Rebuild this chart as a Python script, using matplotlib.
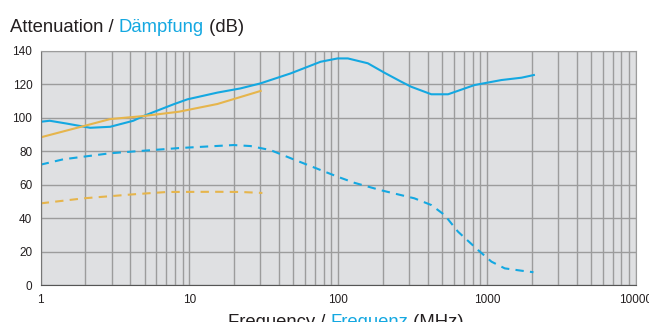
import numpy as np
import matplotlib
matplotlib.use("Agg")
import matplotlib.pyplot as plt

plt.rcParams['font.family'] = ['Liberation Sans', 'DejaVu Sans']

# data (MHz, dB)
f_blue = [1, 1.15, 1.5, 2.15, 2.93, 4.19, 4.9, 7.8, 9.7, 15.4, 22, 30, 48,
          76, 99, 116, 158, 204, 265, 309, 422, 547, 823, 1250, 1706, 2065]
att_blue = [97.6, 98.2, 96.5, 94, 94.6, 98.2, 101, 108, 111, 115, 117.5, 120.5, 126.5,
            133.4, 135.4, 135.4, 132.5, 126.9, 121.5, 118.5, 114, 114, 119.5, 122.5, 123.9, 125.5]

f_orange = [1, 1.94, 2.93, 4.9, 8.5, 15.4, 30.1]
att_orange = [88.3, 95, 99.2, 101, 103.6, 108.2, 116]

f_blue_d = [1, 1.42, 2.93, 4.9, 8.5, 19.8, 25.7, 35, 48, 76, 99, 128, 194, 325,
            422, 519, 638, 871, 1071, 1316, 1706, 2050]
att_blue_d = [72, 75.2, 78.8, 80.3, 81.9, 83.7, 83.1, 80.7, 75.8, 68.8, 64.8, 61.2,
              56.7, 51.9, 47.9, 41.9, 32, 21, 14.1, 10.1, 8.7, 7.8]

f_orange_d = [1, 1.94, 4.21, 7.08, 15.4, 22, 30.9]
att_orange_d = [48.9, 51.9, 54.3, 55.7, 55.8, 55.7, 55.1]

blue = '#14a8e1'
orange = '#e6b54c'
txt = '#231f20'

fig = plt.figure(figsize=(6.49, 3.22), dpi=100)
ax = fig.add_axes([0.0627, 0.114, 0.917, 0.7285])
ax.set_facecolor('#dfe0e2')
ax.set_xscale('log')
ax.set_xlim(1, 10000)
ax.set_ylim(0, 140)
ax.set_yticks(np.arange(0, 141, 20))
ax.set_xticks([1, 10, 100, 1000, 10000])
ax.set_xticklabels(['1', '10', '100', '1000', '10000'])
ax.grid(True, which='both', color='#9c9c9c', lw=1)
ax.set_axisbelow(True)
ax.tick_params(which='both', length=0, labelsize=8.5, colors=txt, pad=6)
for s in ax.spines.values():
    s.set_color('#9c9c9c')
ax.spines['bottom'].set_color('#555555')
ax.spines['left'].set_color('#777777')

ax.plot(f_blue, att_blue, color=blue, lw=1.5)
ax.plot(f_orange, att_orange, color=orange, lw=1.5)
ax.plot(f_blue_d, att_blue_d, color=blue, lw=1.5, dashes=(4, 3))
ax.plot(f_orange_d, att_orange_d, color=orange, lw=1.5, dashes=(4, 3))

# title in two colours
t1 = fig.text(0.0155, 0.9, 'Attenuation / ', fontsize=13.3, color=txt, va='baseline')
t2 = ax.annotate('Dämpfung', xy=(1, 0), xycoords=t1, va='bottom', fontsize=13.3, color=blue,
                 annotation_clip=False)
ax.annotate(' (dB)', xy=(1, 0), xycoords=t2, va='bottom', fontsize=13.3, color=txt,
            annotation_clip=False)

x1 = fig.text(0.351, 0.025, 'Frequency / ', fontsize=13.3, color=txt, va='top')
x2 = ax.annotate('Frequenz', xy=(1, 1), xycoords=x1, va='top', fontsize=13.3, color=blue,
                 annotation_clip=False)
ax.annotate(' (MHz)', xy=(1, 1), xycoords=x2, va='top', fontsize=13.3, color=txt,
            annotation_clip=False)

fig.savefig('out.png', dpi=100)
